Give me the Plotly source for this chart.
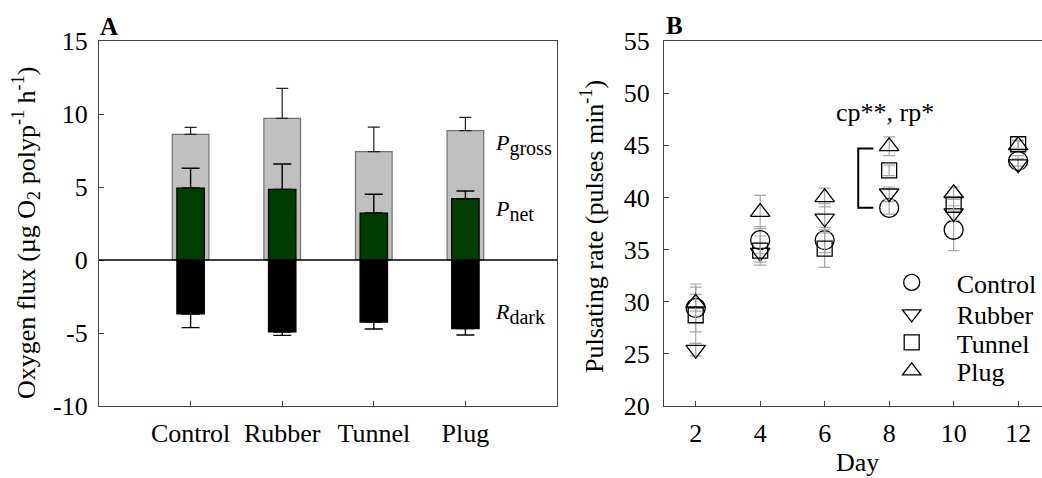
import plotly.graph_objects as go

W, H = 1042, 478

# ---------------- Panel A data ----------------
treatments = ["Control", "Rubber", "Tunnel", "Plug"]
p_gross = [8.6, 9.7, 7.42, 8.86]
p_gross_err = [0.48, 2.05, 1.68, 0.91]
p_net = [4.93, 4.84, 3.22, 4.2]
p_net_err = [1.35, 1.74, 1.28, 0.53]
r_dark = [-3.7, -4.93, -4.25, -4.7]
r_dark_err = [0.93, 0.23, 0.48, 0.44]
flux_ticks = [-10, -5, 0, 5, 10, 15]
flux_ticktext = ["-10", "-5", "0", "5", "10", "15"]

# ---------------- Panel B data ----------------
days = [2, 4, 6, 8, 10, 12]
control = [29.4, 35.9, 35.9, 39.0, 36.9, 43.5]
control_err = [2.3, 1.3, 1.2, 0.6, 2.0, 0.5]
rubber = [25.4, 34.7, 38.0, 40.4, 38.5, 43.2]
rubber_err = [0.6, 0.9, 1.4, 0.6, 0.7, 0.5]
tunnel = [28.7, 34.9, 35.1, 42.6, 39.3, 45.1]
tunnel_err = [2.7, 1.4, 1.8, 0.5, 0.5, 0.4]
plug = [29.9, 38.6, 40.0, 44.9, 40.4, 45.0]
plug_err = [0.8, 1.6, 0.9, 0.9, 0.6, 0.4]
rate_ticks = [20, 25, 30, 35, 40, 45, 50, 55]
day_ticks = [2, 4, 6, 8, 10, 12]

FONT = "Liberation Serif, Times New Roman, serif"


def px(x):
    return x / W


def py(y):
    return 1 - y / H


fig = go.Figure()

# Panel A bars
fig.add_trace(go.Bar(
    x=treatments, y=p_gross, width=0.4, xaxis="x", yaxis="y",
    marker=dict(color="#c0c0c0", line=dict(color="#707070", width=1.2)),
    error_y=dict(type="data", symmetric=False, array=p_gross_err,
                 arrayminus=[0] * 4, color="#222222", thickness=1.2, width=6),
    showlegend=False,
))
fig.add_trace(go.Bar(
    x=treatments, y=p_net, width=0.3, xaxis="x", yaxis="y",
    marker=dict(color="#003d00", line=dict(color="#000000", width=1.2)),
    error_y=dict(type="data", symmetric=False, array=p_net_err,
                 arrayminus=[0] * 4, color="#000000", thickness=1.4, width=9),
    showlegend=False,
))
fig.add_trace(go.Bar(
    x=treatments, y=r_dark, width=0.3, xaxis="x", yaxis="y",
    marker=dict(color="#000000", line=dict(color="#000000", width=1.2)),
    error_y=dict(type="data", symmetric=False, array=[0] * 4,
                 arrayminus=r_dark_err, color="#000000", thickness=1.4, width=9),
    showlegend=False,
))

# Panel B points (each series in its own legend so rows can be spaced freely)
series = [
    ("Control", control, control_err, "circle-open", 19, "legend"),
    ("Rubber", rubber, rubber_err, "triangle-down-open", 17, "legend2"),
    ("Tunnel", tunnel, tunnel_err, "square-open", 15, "legend3"),
    ("Plug", plug, plug_err, "triangle-up-open", 17, "legend4"),
]
for name, vals, errs, sym, size, leg in series:
    fig.add_trace(go.Scatter(
        x=days, y=vals, mode="markers", name=name, xaxis="x2", yaxis="y2",
        legend=leg,
        marker=dict(symbol=sym, size=size, color="#000000",
                    line=dict(color="#000000", width=1.3)),
        error_y=dict(type="data", array=errs, color="#a8a8a8",
                     thickness=1.2, width=6),
    ))

ax_common = dict(
    showline=True, linecolor="#444444", linewidth=1.2,
    ticks="inside", ticklen=5, tickcolor="#444444", tickwidth=1,
    showgrid=False, zeroline=False,
    tickfont=dict(family=FONT, size=26, color="#000000"),
)


def legend_at(top_px):
    return dict(x=px(866.7), y=py(top_px), xanchor="left", yanchor="top",
                font=dict(family=FONT, size=26, color="#000000"), itemwidth=80,
                bgcolor="rgba(0,0,0,0)", borderwidth=0)


legend_tops = [259, 290.5, 319, 347.5]

fig.update_layout(
    width=W, height=H,
    margin=dict(l=0, r=0, t=0, b=0, autoexpand=False),
    paper_bgcolor="white", plot_bgcolor="white",
    barmode="overlay",
    font=dict(family=FONT, size=26, color="#000000"),
    xaxis=dict(domain=[px(99), px(557)], anchor="y", type="category",
               categoryorder="array", categoryarray=treatments,
               range=[-1, 4], mirror=True, ticklabelstandoff=4, **ax_common),
    yaxis=dict(domain=[py(406), py(41)], anchor="x", range=[-10, 15],
               tickvals=flux_ticks, ticktext=flux_ticktext, mirror=True,
               ticklabelstandoff=5, **ax_common),
    xaxis2=dict(domain=[px(664), 1.0], anchor="y2", range=[1.017, 12.74],
                tickvals=day_ticks, mirror=True, ticklabelstandoff=4, **ax_common),
    yaxis2=dict(domain=[py(406), py(41)], anchor="x2", range=[20, 55],
                tickvals=rate_ticks, mirror=False, ticklabelstandoff=8, **ax_common),
    legend=legend_at(legend_tops[0]),
    legend2=legend_at(legend_tops[1]),
    legend3=legend_at(legend_tops[2]),
    legend4=legend_at(legend_tops[3]),
    showlegend=True,
)

# zero line in panel A
fig.add_shape(type="line", xref="x domain", yref="y", x0=0, x1=1, y0=0, y1=0,
              line=dict(color="#000000", width=1.5))

# significance bracket at day 8
fig.add_shape(type="path", xref="x2", yref="y2",
              path="M 7.51,44.7 L 7.04,44.7 L 7.04,39.0 L 7.51,39.0",
              line=dict(color="#000000", width=2))


def note(text, x, y, xref="paper", yref="paper", size=26, angle=0,
         xanchor="center"):
    return dict(text=text, x=x, y=y, xref=xref, yref=yref, textangle=angle,
                xanchor=xanchor, yanchor="middle", showarrow=False,
                font=dict(family=FONT, size=size, color="#000000"))


SUB = "<sub><span style='font-size:20px'>%s</span></sub>"
ann = [
    note("<b>A</b>", px(98), py(27), xanchor="left", size=25),
    note("<b>B</b>", px(664), py(26), xanchor="left", size=25),
    note("Oxygen flux (µg O<sub>2</sub> polyp<sup>-1</sup> h<sup>-1</sup>)",
         px(26), py(233), angle=-90),
    note("Pulsating rate (pulses min<sup>-1</sup>)", px(592), py(227), angle=-90),
    note("Day", px(857), py(462)),
    note("<i>P</i>" + SUB % "gross", 3.3, 7.86, "x", "y", size=22, xanchor="left"),
    note("<i>P</i>" + SUB % "net", 3.3, 3.4, "x", "y", size=22, xanchor="left"),
    note("<i>R</i>" + SUB % "dark", 3.3, -3.68, "x", "y", size=22, xanchor="left"),
    note("cp**, rp*", 7.87, 48.1, "x2", "y2"),
]
fig.update_layout(annotations=ann)

fig.write_html(
    "out.html",
    config={"displayModeBar": False},
    post_script="document.body.style.margin='0';"
                "document.documentElement.style.overflow='hidden';",
)
